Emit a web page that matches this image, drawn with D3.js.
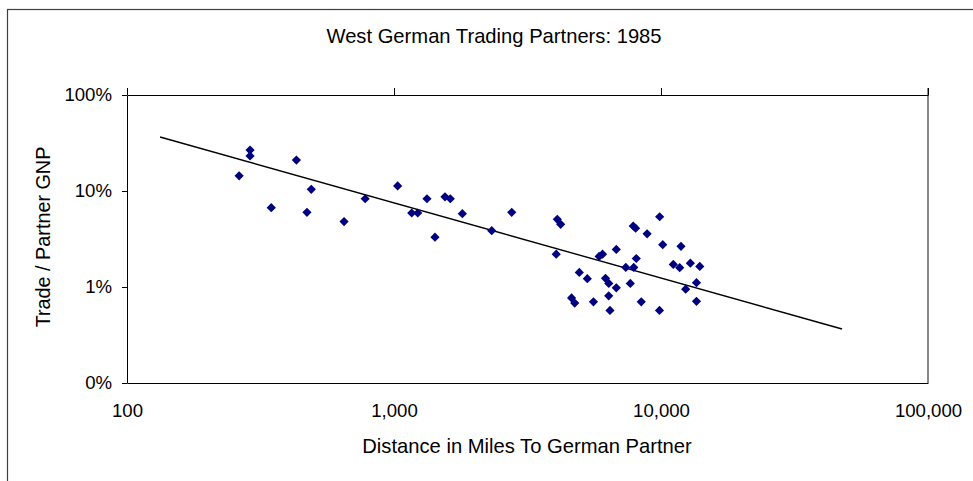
<!DOCTYPE html>
<html>
<head>
<meta charset="utf-8">
<script src="https://cdn.jsdelivr.net/npm/d3@7"></script>
<style>
  body { margin: 0; background: #fff; }
  svg text { font-family: "Liberation Sans", Arial, sans-serif; fill: #000; }
</style>
</head>
<body>
<script>
// distance in miles, trade as % of partner GNP
var distance = [263, 289, 289, 347, 431, 490, 472, 650, 780, 1032,
  1165, 1227, 1329, 1424, 1552, 1625, 1803, 2323, 2760, 4089,
  4210, 4051, 4943, 5297, 4624, 4752, 5585, 5865, 6040, 6801,
  6195, 6375, 6801, 6370, 6440, 7380, 7905, 8080, 7675, 8435,
  7870, 8035, 8870, 9885, 10150, 9870, 11120, 11750, 11880, 12880,
  13970, 13580, 12370, 13580];
var tradeShare = [14.4, 26.7, 23.2, 6.7, 21.0, 10.4, 6.0, 4.8, 8.3, 11.3,
  5.9, 5.9, 8.3, 3.3, 8.7, 8.3, 5.8, 3.86, 6.0, 5.07,
  4.5, 2.2, 1.42, 1.22, 0.77, 0.68, 0.70, 2.08, 2.2, 2.46,
  1.23, 1.09, 0.98, 0.81, 0.57, 1.60, 1.60, 1.98, 1.09, 0.70,
  4.32, 4.09, 3.58, 5.39, 2.76, 0.57, 1.72, 1.59, 2.65, 1.77,
  1.64, 1.11, 0.95, 0.71];

// trend line end points
var trendX = [133, 47650];
var trendY = [36.5, 0.365];

var xTicks = [100, 1000, 10000, 100000];
var xTickLabels = ["100", "1,000", "10,000", "100,000"];
var yTicks = [100, 10, 1, 0.1];
var yTickLabels = ["100%", "10%", "1%", "0%"];

window.onload = function() {
  var outerWidth = 973,
    outerHeight = 481,
    plot = {left: 127, right: 928, top: 95, bottom: 383},
    fontSize = 18.6,
    titleSize = 20.2;

  var svg = d3.select("body").append("svg")
    .attr("width", outerWidth)
    .attr("height", outerHeight);

  // chart frame
  svg.append("rect")
    .attr("x", 7.5).attr("y", 9.5)
    .attr("width", 1000).attr("height", 1000)
    .attr("fill", "#fff")
    .attr("stroke", "#404040")
    .attr("stroke-width", 1.2);

  var xScale = d3.scaleLog()
    .domain([100, 100000])
    .range([plot.left, plot.right]);

  var yScale = d3.scaleLog()
    .domain([0.1, 100])
    .range([plot.bottom, plot.top]);

  // right border of plot area (grey)
  svg.append("line")
    .attr("x1", plot.right).attr("x2", plot.right)
    .attr("y1", plot.top - 7).attr("y2", plot.bottom)
    .attr("stroke", "#888")
    .attr("stroke-width", 2);

  // top axis line with tick marks pointing up
  var topAxis = d3.axisTop(xScale)
    .tickValues(xTicks)
    .tickSize(7)
    .tickSizeOuter(0)
    .tickFormat("");
  svg.append("g")
    .attr("transform", "translate(0," + plot.top + ")")
    .call(topAxis)
    .call(function(g) { g.selectAll("path, line").attr("stroke", "#000"); });

  // bottom axis line with labels
  var bottomAxis = d3.axisBottom(xScale)
    .tickValues(xTicks)
    .tickSize(0)
    .tickSizeOuter(0)
    .tickPadding(20.5)
    .tickFormat(function(d, i) { return xTickLabels[i]; });
  svg.append("g")
    .attr("transform", "translate(0," + plot.bottom + ")")
    .call(bottomAxis)
    .call(function(g) {
      g.select(".domain").attr("stroke", "#000");
      g.selectAll("text").style("font-size", fontSize + "px").attr("fill", "#000");
    });

  // left axis
  var leftAxis = d3.axisLeft(yScale)
    .tickValues(yTicks)
    .tickSize(5)
    .tickSizeOuter(0)
    .tickPadding(10)
    .tickFormat(function(d, i) { return yTickLabels[i]; });
  svg.append("g")
    .attr("transform", "translate(" + plot.left + ",0)")
    .call(leftAxis)
    .call(function(g) {
      g.selectAll("path, line").attr("stroke", "#000");
      g.selectAll("text").style("font-size", fontSize + "px").attr("fill", "#000");
    });

  // trend line
  var line = d3.line()
    .x(function(d) { return xScale(d[0]); })
    .y(function(d) { return yScale(d[1]); });
  svg.append("path")
    .datum(d3.zip(trendX, trendY))
    .attr("d", line)
    .attr("fill", "none")
    .attr("stroke", "#000")
    .attr("stroke-width", 1.4);

  // diamond markers
  var r = 4.6;
  var diamond = "M0," + (-r) + "L" + r + ",0L0," + r + "L" + (-r) + ",0Z";
  svg.append("g")
    .selectAll("path")
    .data(d3.zip(distance, tradeShare))
    .enter().append("path")
    .attr("d", diamond)
    .attr("transform", function(d) {
      return "translate(" + xScale(d[0]) + "," + yScale(d[1]) + ")";
    })
    .attr("fill", "#000080");

  // titles
  svg.append("text")
    .attr("x", 494).attr("y", 43)
    .attr("text-anchor", "middle")
    .style("font-size", titleSize + "px")
    .text("West German Trading Partners: 1985");

  svg.append("text")
    .attr("x", 527).attr("y", 453)
    .attr("text-anchor", "middle")
    .style("font-size", titleSize + "px")
    .text("Distance in Miles To German Partner");

  svg.append("text")
    .attr("transform", "translate(50,237) rotate(-90)")
    .attr("text-anchor", "middle")
    .style("font-size", "19.8px")
    .text("Trade / Partner GNP");
};
</script>
</body>
</html>
